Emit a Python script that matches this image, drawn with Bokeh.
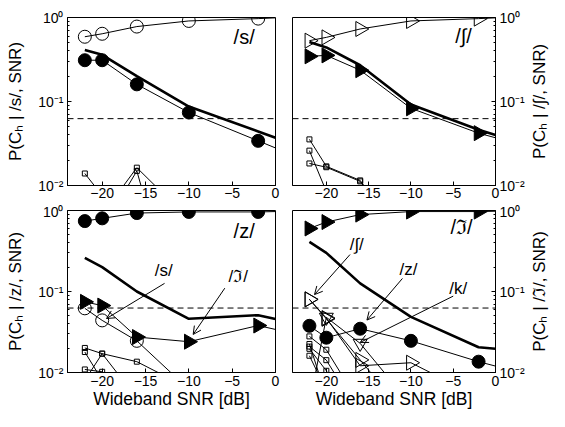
import math
from bokeh.plotting import figure
from bokeh.layouts import column, row
from bokeh.models import Range1d, FixedTicker, Span, Label, Arrow, OpenHead
from bokeh.embed import file_html
from bokeh.resources import INLINE

FONT = "Liberation Sans"

# SNR grid (dB); last point (0) only for line continuation to the frame edge
SNR = [-22, -20, -16, -10, -2, 0]
SNR_MARK = [-22, -20, -16, -10, -2]
CHANCE = 0.0625

X_TICKS = [-20, -15, -10, -5, 0]
X_TICK_LABELS = ["\u221220", "\u221215", "\u221210", "\u22125", "0"]
Y_TICKS = [0.01, 0.1, 1.0]
Y_TICK_LABELS = ["10\u207b\u00b2", "10\u207b\u00b9", "10\u2070"]
Y_MINOR = [0.02, 0.03, 0.04, 0.05, 0.06, 0.07, 0.08, 0.09,
           0.2, 0.3, 0.4, 0.5, 0.6, 0.7, 0.8, 0.9]
X_LABEL = "Wideband SNR [dB]"

# ---- panel /s/ ----
s_s = [0.59, 0.64, 0.78, 0.91, 0.97, 0.99]
s_z = [0.31, 0.31, 0.16, 0.074, 0.034, 0.028]
s_model = [0.41, 0.36, 0.20, 0.087, 0.044, 0.037]
s_sq1 = [0.0139, 0.0076, 0.004, 0.002, 0.001, 0.001]
s_sq2 = [0.003, 0.0045, 0.0163, 0.004, 0.002, 0.002]
s_sq3 = [0.002, 0.003, 0.0149, 0.0001, 0.0001, 0.0001]

# ---- panel /∫/ ----
sh_sh = [0.53, 0.58, 0.73, 0.91, 0.97, 0.99]
sh_zh = [0.345, 0.354, 0.236, 0.083, 0.042, 0.037]
sh_model = [0.51, 0.44, 0.27, 0.092, 0.046, 0.040]
sh_sq1 = [0.0354, 0.0169, 0.0115, 0.0017, 0.0005, 0.0005]
sh_sq2 = [0.026, 0.0085, 0.004, 0.002, 0.001, 0.001]
sh_sq3 = [0.0183, 0.0165, 0.0112, 0.0017, 0.0005, 0.0005]

# ---- panel /z/ ----
z_z = [0.74, 0.80, 0.93, 0.96, 0.96, 0.97]
z_model = [0.26, 0.20, 0.10, 0.046, 0.051, 0.0457]
z_zh = [0.0745, 0.067, 0.0274, 0.024, 0.038, 0.034]
z_s = [0.062, 0.044, 0.0246, 0.0062, 0.003, 0.003]
z_sq1 = [0.0201, 0.0171, 0.0136, 0.0064, 0.003, 0.003]
z_sq2 = [0.0179, 0.008, 0.004, 0.002, 0.001, 0.001]
z_sq3 = [0.008, 0.0171, 0.0048, 0.002, 0.001, 0.001]
z_sq4 = [0.0109, 0.0102, 0.004, 0.002, 0.001, 0.001]

# ---- panel /ℑ/ ----
zh_zh = [0.60, 0.72, 0.89, 0.97, 0.97, 0.98]
zh_model = [0.41, 0.30, 0.126, 0.0486, 0.0205, 0.0196]
zh_sh = [0.080, 0.047, 0.0121, 0.0132, 0.005, 0.004]
zh_z = [0.0377, 0.0269, 0.0347, 0.0246, 0.0136, 0.012]
zh_k = [0.004, 0.048, 0.0229, 0.004, 0.002, 0.002]
zh_x = [0.080, 0.046, 0.0143, 0.0025, 0.001, 0.001]
zh_sq1 = [0.0279, 0.0191, 0.004, 0.002, 0.001, 0.001]
zh_sq2 = [0.0209, 0.0142, 0.003, 0.002, 0.001, 0.001]
zh_sq3 = [0.0196, 0.0105, 0.002, 0.001, 0.001, 0.001]
zh_sq4 = [0.0161, 0.006, 0.002, 0.001, 0.001, 0.001]
zh_sq5 = [0.0225, 0.005, 0.002, 0.001, 0.001, 0.001]


def style_axis(ax):
    ax.major_tick_in = 4
    ax.major_tick_out = 0
    ax.minor_tick_in = 2
    ax.minor_tick_out = 0
    ax.axis_line_color = "black"
    ax.major_tick_line_color = "black"
    ax.minor_tick_line_color = "black"
    ax.major_label_text_font = FONT
    ax.major_label_text_font_size = "14px"
    ax.major_label_text_color = "black"
    ax.axis_label_text_font = FONT
    ax.axis_label_text_font_size = "17px"
    ax.axis_label_text_font_style = "normal"
    ax.axis_label_text_color = "black"


def make_panel(width, height, yside, ylabel, xlabel, bl, br, bt, bb):
    p = figure(width=width, height=height, x_range=Range1d(-24, 0),
               y_range=Range1d(0.01, 1.0), y_axis_type="log",
               y_axis_location=yside, output_backend="svg",
               toolbar_location=None, min_border_left=bl,
               min_border_right=br, min_border_top=bt, min_border_bottom=bb,
               background_fill_color="white", border_fill_color="white")
    p.xgrid.visible = False
    p.ygrid.visible = False
    p.outline_line_color = "black"
    p.outline_line_width = 1
    p.outline_line_alpha = 1
    for ax in p.axis:
        style_axis(ax)
    xa = p.xaxis[0]
    xa.ticker = FixedTicker(ticks=X_TICKS, minor_ticks=[])
    xa.major_label_overrides = {float(t): l for t, l in zip(X_TICKS, X_TICK_LABELS)}
    xa.major_label_standoff = 2 if xlabel is None else 3
    if xlabel:
        xa.axis_label = xlabel
        xa.axis_label_text_font_size = "17.5px"
        xa.axis_label_standoff = 0
    ya = p.yaxis[0]
    ya.ticker = FixedTicker(ticks=Y_TICKS, minor_ticks=Y_MINOR)
    ya.major_label_overrides = {t: l for t, l in zip(Y_TICKS, Y_TICK_LABELS)}
    ya.major_label_standoff = 4
    if ylabel:
        ya.axis_label = ylabel
        ya.axis_label_standoff = 10
    p.add_layout(Span(location=CHANCE, dimension="width", line_color="black",
                      line_width=1, line_dash="6 4"))
    return p


def side_title(height, text, bt, bb):
    """Narrow strip whose left axis carries a bottom-to-top title."""
    q = figure(width=22, height=height, x_range=Range1d(0, 1),
               y_range=Range1d(0, 1), x_axis_location=None,
               output_backend="svg", toolbar_location=None,
               min_border_left=21, min_border_right=0,
               min_border_top=bt, min_border_bottom=bb,
               background_fill_color="white", border_fill_color="white")
    q.xgrid.visible = False
    q.ygrid.visible = False
    q.outline_line_color = None
    ax = q.yaxis[0]
    style_axis(ax)
    ax.ticker = FixedTicker(ticks=[], minor_ticks=[])
    ax.axis_line_color = None
    ax.major_tick_in = 0
    ax.minor_tick_in = 0
    ax.major_label_standoff = 0
    ax.axis_label = text
    ax.axis_label_standoff = 1
    return q


def series(p, ys, marker=None, fill=None, size=13, angle=0.0, lw=1):
    p.line(SNR, ys, line_color="black", line_width=lw)
    if marker:
        p.scatter(SNR_MARK, ys[:len(SNR_MARK)], marker=marker, size=size,
                  angle=angle, line_color="black", line_width=1,
                  fill_color=fill)


def model(p, ys):
    p.line(SNR, ys, line_color="black", line_width=2.6)


def tag(p, x, y, text, size="20px", align="right"):
    p.add_layout(Label(x=x, y=y, text=text, text_align=align,
                       text_baseline="middle", text_font=FONT,
                       text_font_size=size, text_color="black"))


def arrow(p, x0, y0, x1, y1):
    p.add_layout(Arrow(end=OpenHead(size=8, line_width=1, line_color="black"),
                       x_start=x0, y_start=y0, x_end=x1, y_end=y1,
                       line_width=1, line_color="black"))


RIGHT = -math.pi / 2

# --- /s/ ---
tl = make_panel(283, 203, "left", "P(C\u2095 | /s/, SNR)", None, 67, 8, 17, 18)
for sq in (s_sq1, s_sq2, s_sq3):
    series(tl, sq, "square", None, 5)
model(tl, s_model)
series(tl, s_z, "circle", "black", 13)
series(tl, s_s, "circle", None, 13)
tag(tl, -2.4, 0.58, "/s/")

# --- /∫/ ---
tr = make_panel(244, 203, "right", None, None, 9, 32, 17, 18)
for sq in (sh_sq1, sh_sq2, sh_sq3):
    series(tr, sq, "square", None, 5)
model(tr, sh_model)
series(tr, sh_zh, "triangle", "black", 15, RIGHT)
series(tr, sh_sh, "triangle", None, 15, RIGHT)
tag(tr, -2.8, 0.61, "/\u222b/")
tr_t = side_title(203, "P(C\u2095 | /\u222b/, SNR)", 17, 18)

# --- /z/ ---
bl = make_panel(283, 208, "left", "P(C\u2095 | /z/, SNR)", X_LABEL, 67, 8, 7, 39)
for sq in (z_sq1, z_sq2, z_sq3, z_sq4):
    series(bl, sq, "square", None, 5)
model(bl, z_model)
series(bl, z_s, "circle", None, 13)
series(bl, z_zh, "triangle", "black", 15, RIGHT)
series(bl, z_z, "circle", "black", 13)
tag(bl, -2.4, 0.56, "/z/")
tag(bl, -12.9, 0.18, "/s/", "17px", "center")
arrow(bl, -12.8, 0.126, -19.5, 0.0464)
tag(bl, -4.3, 0.152, "/\u2111/", "17px", "center")
arrow(bl, -5.85, 0.11, -9.5, 0.0295)

# --- /ℑ/ ---
br = make_panel(244, 208, "right", None, X_LABEL, 9, 32, 7, 39)
for sq in (zh_sq1, zh_sq2, zh_sq3, zh_sq4, zh_sq5):
    series(br, sq, "square", None, 5)
model(br, zh_model)
series(br, zh_x, "triangle", None, 15, RIGHT)
series(br, zh_k, "inverted_triangle", None, 14)
series(br, zh_sh, "triangle", None, 15, RIGHT)
series(br, zh_z, "circle", "black", 13)
series(br, zh_zh, "triangle", "black", 15, RIGHT)
tag(br, -2.7, 0.62, "/\u2111/")
tag(br, -16.4, 0.38, "/\u222b/", "17px", "center")
arrow(br, -17.2, 0.286, -21.4, 0.0916)
tag(br, -10.3, 0.185, "/z/", "17px", "center")
arrow(br, -11.0, 0.145, -15.2, 0.0444)
tag(br, -4.4, 0.11, "/k/", "17px", "center")
arrow(br, -5.0, 0.0877, -16.0, 0.0235)
br_t = side_title(208, "P(C\u2095 | /\u2111/, SNR)", 7, 39)

layout = column(row(tl, tr, tr_t), row(bl, br, br_t))

with open("out.html", "w") as f:
    f.write(file_html(layout, INLINE))
